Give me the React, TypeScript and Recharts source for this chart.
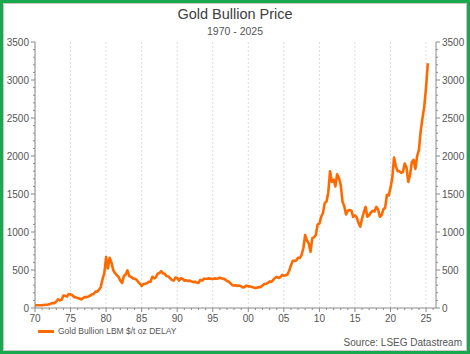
import React from 'react';
import { LineChart, Line, XAxis, YAxis, CartesianGrid } from 'recharts';

// quarterly closes, $/t oz (1970 Q1 onward)
const PRICES_70S = [
  35, 36, 36, 37, 38, 40, 42, 43, 48, 58, 65, 64, 85, 115, 100, 110, 165, 160, 150, 185,
  180, 168, 145, 140, 130, 125, 112, 130, 145, 143, 152, 162, 180, 183, 215, 215, 240, 275, 380, 460
];
const PRICES_80S = [
  670, 520, 660, 600, 500, 460, 430, 410, 360, 330, 420, 440, 495, 420, 410, 390, 385, 375, 345, 320,
  290, 315, 320, 325, 345, 345, 410, 390, 405, 450, 460, 485, 455, 450, 420, 415, 390, 370, 360, 400
];
const PRICES_90S = [
  395, 360, 390, 385, 360, 365, 355, 360, 350, 340, 345, 335, 330, 370, 360, 385, 385, 385, 390, 385,
  380, 390, 385, 388, 400, 390, 385, 375, 355, 345, 325, 300, 295, 300, 290, 295, 285, 270, 275, 295
];
const PRICES_00S = [
  285, 285, 275, 270, 262, 268, 275, 276, 295, 315, 320, 330, 350, 345, 370, 395, 410, 395, 405, 435,
  425, 430, 440, 490, 560, 620, 620, 625, 660, 660, 700, 790, 960, 890, 850, 740, 920, 930, 960, 1100
];
const PRICES_10S = [
  1110, 1200, 1250, 1380, 1400, 1520, 1800, 1660, 1690, 1600, 1760, 1710, 1620, 1400, 1340, 1230,
  1280, 1290, 1280, 1200, 1220, 1190, 1120, 1070, 1180, 1260, 1330, 1200, 1220, 1260, 1280, 1270,
  1330, 1300, 1200, 1220, 1300, 1320, 1490, 1480
];
const PRICES_20S = [1580, 1710, 1980, 1870, 1800, 1800, 1780, 1790, 1900, 1850, 1660, 1750, 1920, 1950, 1830, 2000, 2080, 2330, 2500, 2650, 2900, 3220];

const START_YEAR = 1970;
const PRICES = [...PRICES_70S, ...PRICES_80S, ...PRICES_90S, ...PRICES_00S, ...PRICES_10S, ...PRICES_20S];
const chartData = PRICES.map((price, i) => ({ date: START_YEAR + i / 4, price }));

const Y_TICKS = Array.from({ length: 36 }, (_, i) => i * 100);
const Y_MAJOR = [0, 500, 1000, 1500, 2000, 2500, 3000, 3500];
const X_TICKS = Array.from({ length: 57 }, (_, i) => 1970 + i);
const X_MAJOR = [1970, 1975, 1980, 1985, 1990, 1995, 2000, 2005, 2010, 2015, 2020, 2025];

const FONT = '"Liberation Sans", Arial, sans-serif';
const AXIS = '#8a8a8a';
const TEXT = '#555';
const ORANGE = '#ff6a00';

const YTick = (side: 'left' | 'right') => (props: any) => {
  const { x, y, payload } = props;
  const major = payload.value % 500 === 0;
  const len = major ? 4 : 2;
  const dir = side === 'left' ? -1 : 1;
  return (
    <g>
      <line x1={x} x2={x + dir * len} y1={y} y2={y} stroke={AXIS} />
      {major && (
        <text
          x={x + dir * 6}
          y={y}
          dy={3.5}
          textAnchor={side === 'left' ? 'end' : 'start'}
          fontSize={10}
          fontFamily={FONT}
          fill={TEXT}
        >
          {payload.value}
        </text>
      )}
    </g>
  );
};

const XTick = (props: any) => {
  const { x, y, payload } = props;
  const major = payload.value % 5 === 0;
  return (
    <g>
      <line x1={x} x2={x} y1={y} y2={y + (major ? 4 : 2)} stroke={AXIS} />
      {major && (
        <text x={x} y={y + 14} textAnchor="middle" fontSize={10} fontFamily={FONT} fill={TEXT}>
          {String(payload.value % 100).padStart(2, '0')}
        </text>
      )}
    </g>
  );
};

export default function App() {
  return (
    <div
      style={{
        position: 'absolute',
        left: 0,
        top: 0,
        width: 470,
        height: 354,
        boxSizing: 'border-box',
        border: '3px solid #1aa84f',
        background: '#fff',
        fontFamily: FONT
      }}
    >
      <div
        style={{
          position: 'absolute',
          inset: 0,
          border: '1px solid #c8c8c8'
        }}
      />
      <div style={{ position: 'absolute', left: -3, top: -3 }}>
        <LineChart width={470} height={354} data={chartData} margin={{ top: 42, right: 4, bottom: 31, left: 5 }}>
          <CartesianGrid
            stroke="#dcdcdc"
            strokeDasharray="2 2"
            horizontalValues={Y_MAJOR}
            verticalValues={X_MAJOR}
          />
          <XAxis
            dataKey="date"
            type="number"
            domain={[1970, 2026.4]}
            ticks={X_TICKS}
            interval={0}
            allowDataOverflow
            axisLine={{ stroke: AXIS }}
            tickLine={false}
            tickSize={0}
            tickMargin={0}
            height={15}
            tick={XTick}
          />
          <YAxis
            yAxisId="left"
            orientation="left"
            domain={[0, 3500]}
            ticks={Y_TICKS}
            interval={0}
            width={30}
            axisLine={{ stroke: AXIS }}
            tickLine={false}
            tickSize={0}
            tickMargin={0}
            tick={YTick('left')}
          />
          <YAxis
            yAxisId="right"
            orientation="right"
            domain={[0, 3500]}
            ticks={Y_TICKS}
            interval={0}
            width={30}
            axisLine={{ stroke: AXIS }}
            tickLine={false}
            tickSize={0}
            tickMargin={0}
            tick={YTick('right')}
          />
          <Line
            yAxisId="right"
            dataKey="price"
            stroke="none"
            strokeOpacity={0}
            dot={false}
            activeDot={false}
            legendType="none"
            isAnimationActive={false}
          />
          <Line
            yAxisId="left"
            dataKey="price"
            stroke={ORANGE}
            strokeWidth={2.6}
            strokeLinejoin="round"
            dot={false}
            isAnimationActive={false}
          />
        </LineChart>
      </div>
      <div
        style={{
          position: 'absolute',
          left: 0,
          right: 0,
          top: 3,
          textAlign: 'center',
          fontSize: 14.5,
          color: '#404040'
        }}
      >
        Gold Bullion Price
      </div>
      <div
        style={{
          position: 'absolute',
          left: 0,
          right: 0,
          top: 22,
          textAlign: 'center',
          fontSize: 10.5,
          color: '#555'
        }}
      >
        1970 - 2025
      </div>
      <div style={{ position: 'absolute', left: 35, top: 323, display: 'flex', alignItems: 'center' }}>
        <div style={{ width: 16, height: 3, background: ORANGE, marginRight: 4 }} />
        <span style={{ fontSize: 8.5, color: '#555' }}>Gold Bullion LBM $/t oz DELAY</span>
      </div>
      <div
        style={{
          position: 'absolute',
          right: 5,
          top: 334,
          fontSize: 10,
          color: '#555'
        }}
      >
        Source: LSEG Datastream
      </div>
    </div>
  );
}
